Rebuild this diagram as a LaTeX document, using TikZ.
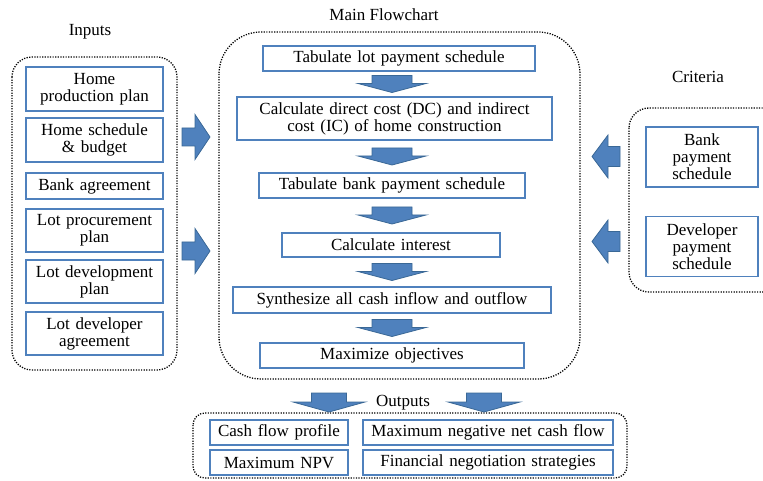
\documentclass[tikz,border=0pt]{standalone}
\usepackage{fontspec}
\setmainfont{Liberation Serif}
\usetikzlibrary{calc}
\definecolor{boxblue}{HTML}{4F81BD}
\definecolor{arrowfill}{HTML}{4F81BD}
\definecolor{arrowline}{HTML}{3A6896}
\tikzset{
  bx/.style={draw=boxblue, line width=1.9pt, fill=white, align=center, inner sep=2pt,
    font=\fontsize{17}{17}\selectfont},
  framebox/.style={draw=black, line width=1.3pt, dash pattern=on 1.2pt off 1.4pt},
  lbl/.style={font=\fontsize{17}{17}\selectfont, inner sep=0pt},
  arrowsty/.style={fill=arrowfill, draw=arrowline, line width=0.8pt, line join=miter},
  pics/blockarrow/.style args={#1/#2/#3/#4}{code={
    \pgfmathsetmacro\ba{(#3+#4)/2}
    \pgfmathsetmacro\bb{-\ba+#3}
    \filldraw[arrowsty] (-\ba,-#1) -- (\bb,-#1) -- (\bb,-#2) -- (\ba,0) -- (\bb,#2) -- (\bb,#1) -- (-\ba,#1) -- cycle;
  }}
}
\begin{document}
\begin{tikzpicture}[x=1pt,y=-1pt]
\clip (0,0) rectangle (763,481);
\useasboundingbox (0,0) rectangle (763,481);

% titles
\node[lbl] (tin) at (90,32) {Inputs};
\node[lbl] (tmain) at (384,15) {Main Flowchart};
\node[lbl] (tcrit) at (698,77) {Criteria};

% frames
\draw[framebox, rounded corners=20pt] (12,57) rectangle (177,370);
\draw[framebox, rounded corners=42pt] (219,32) rectangle (580,379);
\draw[framebox, rounded corners=20pt] (629,108) rectangle (800,292);
\draw[framebox, rounded corners=12pt] (193,413) rectangle (627,478);

% inputs
\node[bx, text width=133pt, minimum height=44pt] (in1) at (94.5,89) {Home\\production plan};
\node[bx, text width=133pt, minimum height=44pt] (in2) at (94.5,140) {Home schedule\\\&\ budget};
\node[bx, text width=133pt, minimum height=26pt] (in3) at (94.5,186) {Bank agreement};
\node[bx, text width=133pt, minimum height=43pt] (in4) at (94.5,230.5) {Lot procurement\\plan};
\node[bx, text width=133pt, minimum height=43pt] (in5) at (94.5,281.5) {Lot development\\plan};
\node[bx, text width=133pt, minimum height=43pt] (in6) at (94.5,333.5) {Lot developer\\agreement};

% main flow
\node[bx, text width=268pt, minimum height=25pt] (m1) at (399,58.5) {Tabulate lot payment schedule};
\node[bx, text width=311pt, minimum height=43pt] (m2) at (394.5,118.5) {Calculate direct cost (DC) and indirect\\cost (IC) of home construction};
\node[bx, text width=262pt, minimum height=25pt] (m3) at (392,185.5) {Tabulate bank payment schedule};
\node[bx, text width=214pt, minimum height=24pt] (m4) at (391,245) {Calculate interest};
\node[bx, text width=314pt, minimum height=26pt] (m5) at (392,300) {Synthesize all cash inflow and outflow};
\node[bx, text width=260pt, minimum height=25pt] (m6) at (392,355.5) {Maximize objectives};

% criteria
\node[bx, text width=108pt, minimum height=60pt] (c1) at (702,157) {Bank\\payment\\schedule};
\node[bx, text width=108pt, minimum height=60pt] (c2) at (702,246.5) {Developer\\payment\\schedule};

% outputs
\node[lbl] (tout) at (403,403) {Outputs};
\node[bx, text width=134pt, minimum height=25pt] (o1) at (279,432.5) {Cash flow profile};
\node[bx, text width=134pt, minimum height=25pt] (o2) at (279,462.5) {Maximum NPV};
\node[bx, text width=246pt, minimum height=25pt] (o3) at (488,432.5) {Maximum negative net cash flow};
\node[bx, text width=246pt, minimum height=25pt] (o4) at (488,462.5) {Financial negotiation strategies};

% block arrows
\coordinate (axis) at (392,0);
\pic[rotate=-90] at (axis |- {$(m1.south)!0.5!(m2.north)$}) {blockarrow={20/34/8/9}};
\pic[rotate=-90] at (axis |- {$(m2.south)!0.5!(m3.north)$}) {blockarrow={20/34/8/9}};
\pic[rotate=-90] at (axis |- {$(m3.south)!0.5!(m4.north)$}) {blockarrow={20/34/8/9}};
\pic[rotate=-90] at (axis |- {$(m4.south)!0.5!(m5.north)$}) {blockarrow={20/34/8/9}};
\pic[rotate=-90] at (axis |- {$(m5.south)!0.5!(m6.north)$}) {blockarrow={20/34/8/9}};

\pic at (196,137) {blockarrow={9/22.5/13/15}};
\pic at (196,251) {blockarrow={9/22.5/13/15}};

\pic[rotate=180] at (606,156.5) {blockarrow={10/21.5/12/16}};
\pic[rotate=180] at (606,241.5) {blockarrow={10/21.5/12/16}};

\pic[rotate=-90] at (329,402.5) {blockarrow={17.5/36/9/10}};
\pic[rotate=-90] at (484,402.5) {blockarrow={17.5/36/9/10}};
\end{tikzpicture}
\end{document}
